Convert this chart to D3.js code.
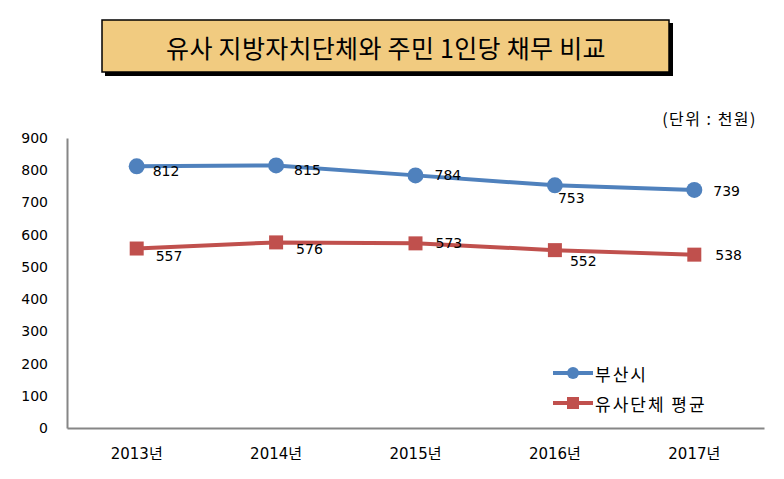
<!DOCTYPE html>
<html>
<head>
<meta charset="utf-8">
<script src="https://cdn.jsdelivr.net/npm/d3@7"></script>
<style>
  body { margin: 0; background: #fff; }
  text { font-family: "DejaVu Sans", "Noto Sans CJK KR", sans-serif; }
</style>
</head>
<body>
<div id="chart"></div>
<script>
const years = ["2013년", "2014년", "2015년", "2016년", "2017년"];
const busan = [812, 815, 784, 753, 739];
const similar = [557, 576, 573, 552, 538];
const yTicks = [0, 100, 200, 300, 400, 500, 600, 700, 800, 900];
const seriesNames = ["부산시", "유사단체 평균"];
// label placement per point (dx, dy from the marker)
const busanLabelPos = [[16, 5], [18, 5], [19, 0], [3, 13], [19, 1]];
const similarLabelPos = [[19, 7], [20, 7], [20, 0], [15, 11], [21, 0]];

const width = 784, height = 479;
const margin = { left: 67, right: 20, top: 138, bottom: 51 };

const svg = d3.select("#chart")
    .append("svg")
    .attr("width", width)
    .attr("height", height);

// title box with shadow
svg.append("rect")
    .attr("x", 105).attr("y", 23)
    .attr("width", 568).attr("height", 53)
    .style("fill", "#000");
svg.append("rect")
    .attr("x", 102).attr("y", 20)
    .attr("width", 567).attr("height", 52)
    .style("fill", "#F1CB80")
    .attr("stroke", "#000")
    .attr("stroke-width", 1.5);
svg.append("text")
    .attr("x", 386).attr("y", 47)
    .attr("text-anchor", "middle")
    .attr("dominant-baseline", "central")
    .style("font-family", "'Noto Sans CJK KR', sans-serif")
    .style("font-size", "25px")
    .style("letter-spacing", "0.3px")
    .text("유사 지방자치단체와 주민 1인당 채무 비교");

svg.append("text")
    .attr("x", 757).attr("y", 118)
    .attr("text-anchor", "end")
    .attr("dominant-baseline", "central")
    .style("font-family", "'Noto Sans CJK KR', sans-serif")
    .style("font-size", "16px")
    .style("letter-spacing", "1.5px")
    .text("(단위 : 천원)");

const x = d3.scaleBand()
    .domain(years)
    .range([margin.left, width - margin.right]);

const y = d3.scaleLinear()
    .domain([0, 900])
    .range([height - margin.bottom, margin.top]);

// y axis
const yAxis = svg.append("g")
    .attr("transform", `translate(${margin.left},0)`)
    .call(d3.axisLeft(y).tickValues(yTicks).tickSize(0).tickPadding(19));
yAxis.select(".domain").attr("stroke", "#868686").attr("stroke-width", 2);
yAxis.selectAll("text")
    .style("font-size", "14px")
    .attr("fill", "#000");

// x axis
const xAxis = svg.append("g")
    .attr("transform", `translate(0,${y(0)})`)
    .call(d3.axisBottom(x).tickSize(0).tickPadding(20));
xAxis.select(".domain").attr("stroke", "#868686").attr("stroke-width", 2);
xAxis.selectAll("text")
    .style("font-size", "15px")
    .attr("fill", "#000");

const cx = (d, i) => x(years[i]) + x.bandwidth() / 2;

const line = d3.line()
    .x((d, i) => cx(d, i))
    .y(d => y(d));

// blue series
svg.append("path")
    .datum(busan)
    .attr("d", line)
    .style("fill", "none")
    .attr("stroke", "#4F81BD")
    .attr("stroke-width", 4);
svg.selectAll(".busan-pt")
    .data(busan)
    .enter()
    .append("circle")
    .attr("cx", cx)
    .attr("cy", d => y(d))
    .attr("r", 8)
    .style("fill", "#4F81BD");

// red series
svg.append("path")
    .datum(similar)
    .attr("d", line)
    .style("fill", "none")
    .attr("stroke", "#C0504D")
    .attr("stroke-width", 4);
svg.selectAll(".similar-pt")
    .data(similar)
    .enter()
    .append("rect")
    .attr("x", (d, i) => cx(d, i) - 7)
    .attr("y", d => y(d) - 7)
    .attr("width", 14)
    .attr("height", 14)
    .style("fill", "#C0504D");

// data labels
svg.selectAll(".busan-lbl")
    .data(busan)
    .enter()
    .append("text")
    .attr("x", (d, i) => cx(d, i) + busanLabelPos[i][0])
    .attr("y", (d, i) => y(d) + busanLabelPos[i][1])
    .attr("dominant-baseline", "central")
    .style("font-size", "14px")
    .text(d => d);
svg.selectAll(".similar-lbl")
    .data(similar)
    .enter()
    .append("text")
    .attr("x", (d, i) => cx(d, i) + similarLabelPos[i][0])
    .attr("y", (d, i) => y(d) + similarLabelPos[i][1])
    .attr("dominant-baseline", "central")
    .style("font-size", "14px")
    .text(d => d);

// legend
const legendColors = ["#4F81BD", "#C0504D"];
const legend = svg.selectAll(".legend")
    .data(seriesNames)
    .enter()
    .append("g")
    .attr("transform", (d, i) => `translate(553,${373 + i * 30})`);
legend.append("line")
    .attr("x1", 0).attr("x2", 40)
    .attr("stroke", (d, i) => legendColors[i])
    .attr("stroke-width", 4);
legend.filter((d, i) => i === 0)
    .append("circle")
    .attr("cx", 20).attr("r", 6)
    .style("fill", legendColors[0]);
legend.filter((d, i) => i === 1)
    .append("rect")
    .attr("x", 14).attr("y", -6)
    .attr("width", 12).attr("height", 12)
    .style("fill", legendColors[1]);
legend.append("text")
    .attr("x", 42)
    .attr("dominant-baseline", "central")
    .style("font-family", "'Noto Sans CJK KR', sans-serif")
    .style("font-size", "17px")
    .style("letter-spacing", "2px")
    .text(d => d);
</script>
</body>
</html>
